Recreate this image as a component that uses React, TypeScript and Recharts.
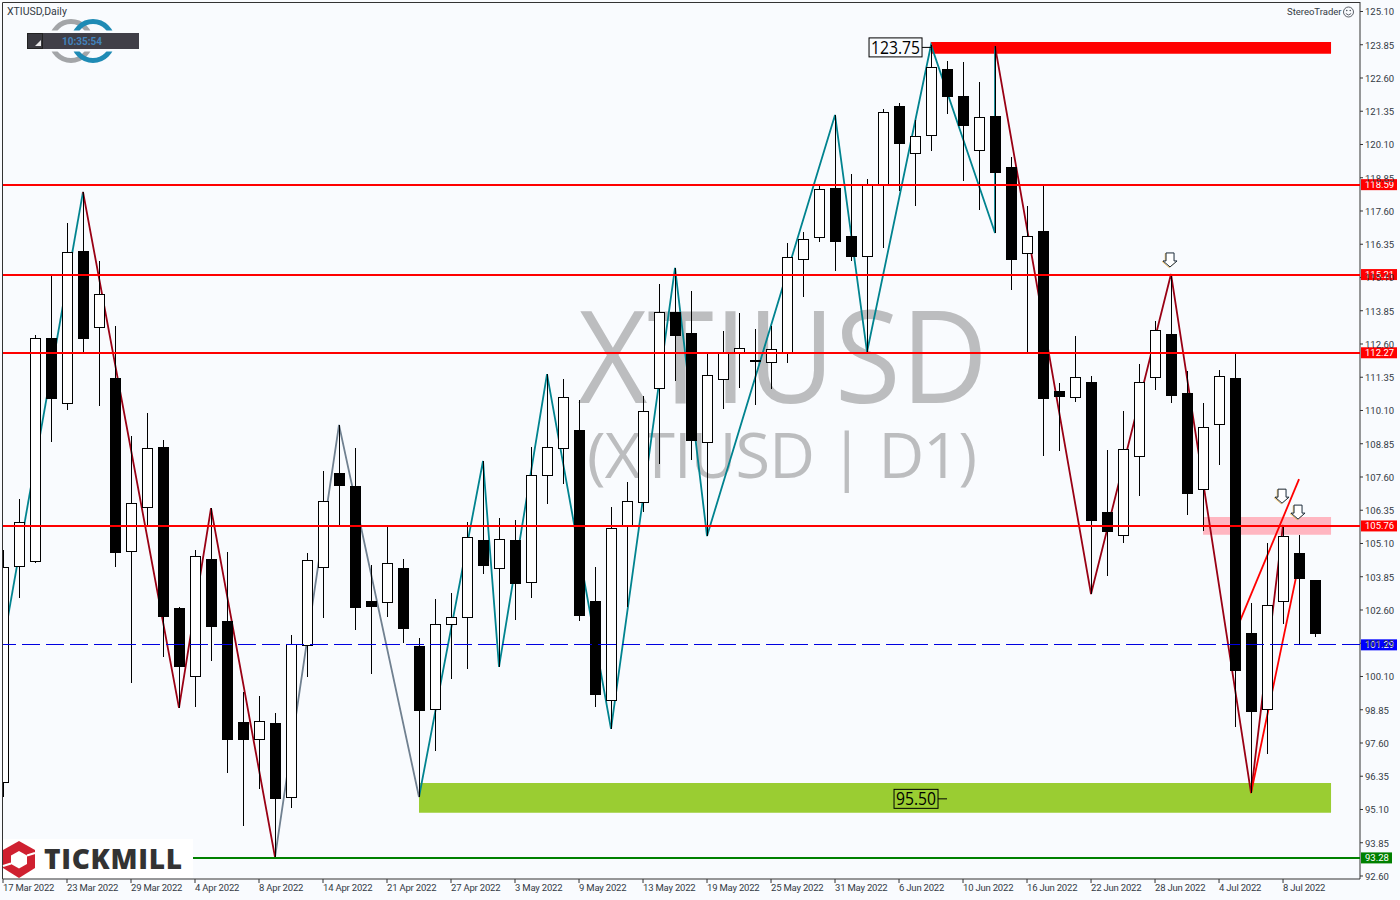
import React from 'react';
import {
  ComposedChart,
  Bar,
  Line,
  XAxis,
  YAxis,
  ReferenceLine,
  ReferenceArea,
  ReferenceDot,
} from 'recharts';

const dateTicks = [
  '17 Mar 2022', '23 Mar 2022', '29 Mar 2022', '4 Apr 2022', '8 Apr 2022', '14 Apr 2022', '21 Apr 2022',
  '27 Apr 2022', '3 May 2022', '9 May 2022', '13 May 2022', '19 May 2022', '25 May 2022', '31 May 2022',
  '6 Jun 2022', '10 Jun 2022', '16 Jun 2022', '22 Jun 2022', '28 Jun 2022', '4 Jul 2022', '8 Jul 2022',
];

const priceTicks = [
  125.1, 123.85, 122.6, 121.35, 120.1, 118.85, 117.6, 116.35, 115.1, 113.85, 112.6, 111.35, 110.1, 108.85,
  107.6, 106.35, 105.1, 103.85, 102.6, 101.35, 100.1, 98.85, 97.6, 96.35, 95.1, 93.85, 92.6,
];

const opens = [
  96.13, 104.25, 104.44, 112.83, 110.38, 116.1, 113.24, 111.32, 104.82, 106.47, 108.73, 102.68, 100.12, 104.52,
  102.19, 98.39, 97.75, 98.35, 95.57, 101.28, 104.22, 107.75, 107.26, 102.94, 102.9, 104.18, 101.25, 98.88,
  102.07, 102.34, 105.23, 104.18, 105.23, 103.65, 107.68, 108.69, 109.37, 102.94, 99.22, 105.8, 106.66, 110.95,
  113.8, 113.01, 108.92, 111.29, 112.26, 112.0, 111.92, 112.26, 115.8, 116.62, 118.47, 116.66, 115.91, 118.62,
  121.55, 119.78, 120.46, 122.94, 121.92, 119.89, 121.17, 119.25, 116.02, 116.85, 110.83, 110.61, 111.17, 106.28,
  105.42, 108.39, 111.36, 112.98, 110.76, 107.15, 109.59, 111.32, 101.74, 98.88, 102.94, 104.74, 103.73,
];
const closes = [
  104.22, 105.91, 112.83, 110.57, 116.06, 112.83, 114.48, 104.78, 106.62, 108.69, 102.38, 100.49, 104.63, 101.99,
  97.75, 97.75, 98.43, 95.53, 101.32, 104.48, 106.7, 107.3, 102.72, 102.75, 104.37, 101.93, 98.84, 102.07,
  102.34, 105.35, 104.29, 105.27, 103.62, 107.68, 108.73, 110.61, 102.41, 99.44, 105.68, 106.7, 110.08, 113.8,
  112.94, 108.99, 111.43, 112.3, 112.45, 111.98, 112.41, 115.87, 116.55, 118.43, 116.47, 115.91, 118.58, 121.32,
  120.16, 120.42, 123.01, 121.92, 120.83, 121.13, 119.07, 115.8, 116.66, 110.57, 110.65, 111.36, 105.98, 105.57,
  108.65, 111.17, 113.13, 110.68, 107.0, 109.48, 111.4, 100.34, 98.8, 102.79, 105.38, 103.8, 101.74,
];
const highs = [
  104.86, 106.77, 112.94, 115.16, 117.15, 118.32, 115.72, 113.28, 109.14, 110.0, 108.99, 102.72, 104.86, 106.43,
  104.78, 99.52, 99.37, 98.73, 101.66, 104.74, 107.83, 109.56, 108.69, 104.29, 105.72, 104.52, 101.55, 103.01,
  103.24, 105.91, 108.2, 106.06, 105.98, 108.73, 111.47, 111.29, 110.5, 104.22, 106.47, 107.41, 110.65, 114.86,
  115.46, 114.59, 112.26, 113.09, 113.77, 113.16, 113.28, 116.4, 116.81, 118.54, 121.21, 118.99, 118.8, 121.44,
  121.66, 121.02, 123.84, 123.24, 123.2, 122.45, 123.8, 119.63, 117.79, 118.54, 111.13, 112.9, 111.4, 108.62,
  110.08, 111.85, 113.47, 115.23, 111.58, 110.38, 111.62, 112.26, 102.86, 105.12, 105.76, 105.42, 103.73,
];
const lows = [
  95.57, 103.05, 104.37, 108.92, 110.12, 112.3, 110.27, 104.22, 99.86, 105.72, 100.83, 98.92, 98.95, 100.68,
  96.47, 94.48, 95.87, 93.31, 95.16, 100.08, 102.3, 105.76, 101.85, 100.19, 102.34, 101.36, 95.57, 97.3,
  100.01, 100.38, 103.95, 100.46, 102.22, 103.05, 106.59, 107.34, 102.19, 98.95, 98.13, 102.72, 106.28, 108.09,
  111.21, 108.24, 105.38, 110.16, 110.95, 110.31, 110.91, 111.89, 114.37, 116.43, 115.35, 115.72, 112.3, 116.21,
  118.35, 117.79, 119.86, 121.25, 118.73, 117.64, 116.77, 114.63, 112.3, 108.39, 108.58, 110.42, 103.2, 103.88,
  105.12, 106.88, 110.87, 110.38, 106.17, 105.57, 108.05, 98.2, 95.72, 97.19, 102.07, 101.29, 101.59,
];

const candles = opens.map((open, i) => ({
  i,
  open,
  close: closes[i],
  high: highs[i],
  low: lows[i],
  range: [lows[i], highs[i]],
}));

const tealLeg1 = [{ i: 0, p: 101.28 }, { i: 5, p: 118.32 }];
const redLeg1 = [{ i: 5, p: 118.32 }, { i: 11, p: 98.92 }, { i: 13, p: 106.43 }, { i: 17, p: 93.31 }];
const slateLeg = [{ i: 17, p: 93.31 }, { i: 21, p: 109.56 }, { i: 26, p: 95.57 }];
const tealLeg2 = [
  { i: 26, p: 95.57 }, { i: 30, p: 108.2 }, { i: 31, p: 100.46 }, { i: 34, p: 111.47 }, { i: 38, p: 98.13 },
  { i: 42, p: 115.46 }, { i: 44, p: 105.38 }, { i: 52, p: 121.21 }, { i: 54, p: 112.3 }, { i: 58, p: 123.84 },
  { i: 62, p: 116.77 }, { i: 62, p: 123.8 },
];
const redLeg2 = [
  { i: 62, p: 123.8 }, { i: 68, p: 103.2 }, { i: 73, p: 115.23 }, { i: 78, p: 95.72 }, { i: 80, p: 105.8 },
];
const brightLeg1 = [{ i: 77, p: 101.74 }, { i: 81, p: 107.52 }];
const brightLeg2 = [{ i: 78, p: 95.72 }, { i: 81, p: 104.37 }];

const legs = [
  { data: tealLeg1, color: '#00838f' },
  { data: tealLeg2, color: '#00838f' },
  { data: slateLeg, color: '#708090' },
  { data: redLeg1, color: '#990014' },
  { data: redLeg2, color: '#990014' },
  { data: brightLeg1, color: '#ff0000' },
  { data: brightLeg2, color: '#ff0000' },
];

const redLevels = [118.59, 115.21, 112.27, 105.76];
const arrowMarks = [{ i: 73, p: 115.76 }, { i: 80, p: 106.88 }, { i: 81, p: 106.28 }];

const FONT = 'Roboto, sans-serif';
const BG = '#f9fbfe';
const INK = '#333a44';

function Candle(props: any) {
  const { x, y, width, height, payload } = props;
  const cx = Math.round(x + width / 2);
  const k = height / (payload.high - payload.low);
  const openY = y + (payload.high - payload.open) * k;
  const closeY = y + (payload.high - payload.close) * k;
  const top = Math.round(Math.min(openY, closeY));
  const bottom = Math.round(Math.max(openY, closeY));
  const up = payload.close > payload.open;
  return (
    <g shapeRendering="crispEdges">
      <line x1={cx + 0.5} x2={cx + 0.5} y1={y} y2={y + height} stroke="#000" />
      <rect
        x={cx - 5 + 0.5}
        y={top + 0.5}
        width={10}
        height={Math.max(bottom - top, 0.5)}
        fill={up ? '#fff' : '#000'}
        stroke="#000"
      />
    </g>
  );
}

function DateTick({ x, y, payload }: any) {
  return (
    <text x={x} y={y + 6} fontSize={9.5} letterSpacing={-0.2} fontFamily={FONT} fill={INK} textAnchor="start">
      {dateTicks[payload.value / 4]}
    </text>
  );
}

function PriceTick({ x, y, payload }: any) {
  return (
    <text x={x} y={y + 4} fontSize={9.5} fontFamily={FONT} fill={INK} textAnchor="start">
      {payload.value.toFixed(2)}
    </text>
  );
}

function PriceTag({ viewBox, text, color, tagWidth }: any) {
  const left = viewBox.x + viewBox.width + 1;
  const cy = viewBox.y;
  return (
    <g>
      <rect x={left} y={cy - 5.5} width={tagWidth} height={11} fill={color} />
      <text x={left + 4} y={cy + 3.5} fontSize={9.5} fontFamily={FONT} fill="#fff">
        {text}
      </text>
    </g>
  );
}

function PriceBox({ cx, cy, text, boxWidth, textWidth }: any) {
  const right = cx - 9;
  return (
    <g>
      <line x1={right} x2={cx} y1={cy} y2={cy} stroke="#000" />
      <rect x={right - boxWidth} y={cy - 9.5} width={boxWidth} height={19} fill="none" stroke="#000" />
      <text
        x={right - boxWidth + (boxWidth - textWidth) / 2}
        y={cy + 6.5}
        fontSize={18}
        fontFamily="'Open Sans', sans-serif"
        fill="#000"
        textLength={textWidth}
        lengthAdjust="spacingAndGlyphs"
      >
        {text}
      </text>
    </g>
  );
}

function ArrowMark({ cx, cy }: any) {
  const pts = [[-4, -7], [4, -7], [4, 1], [7, 1], [0, 7], [-7, 1], [-4, 1]]
    .map(([dx, dy]) => `${cx - 1 + dx},${cy + dy}`)
    .join(' ');
  return (
    <g>
      <polygon points={pts} fill="none" stroke="#e8b860" strokeWidth={1} transform="translate(-0.8,0.6)" />
      <polygon points={pts} fill="#fff" stroke="#1c2b3a" strokeWidth={1} />
    </g>
  );
}

export default function App() {
  return (
    <div style={{ position: 'fixed', left: 0, top: 0, width: 1400, height: 900, background: BG, overflow: 'hidden' }}>
      {/* watermark sits behind the transparent chart */}
      <svg width={1400} height={900} style={{ position: 'absolute', left: 0, top: 0 }}>
        <text x={578} y={403} fontSize={129} fontFamily="'Open Sans', sans-serif" fill="#bcbdbf" textLength={410} lengthAdjust="spacingAndGlyphs">
          XTIUSD
        </text>
        <text x={587} y={478} fontSize={63} fontFamily="'Open Sans', sans-serif" fill="#bcbdbf" textLength={390} lengthAdjust="spacing">
          (XTIUSD | D1)
        </text>
      </svg>

      <div style={{ position: 'absolute', left: 0, top: 0 }}>
        <ComposedChart width={1400} height={900} data={candles} margin={{ top: 2, right: 0, bottom: 0, left: 3 }}>
          <XAxis
            dataKey="i"
            type="number"
            domain={[0, 84.81]}
            allowDataOverflow
            ticks={dateTicks.map((_, n) => n * 4)}
            interval={0}
            height={21}
            tick={<DateTick />}
            tickSize={4}
            tickMargin={2}
            stroke="#333"
            zIndex={5}
          />
          <YAxis
            yAxisId={0}
            orientation="right"
            domain={[92.487, 125.457]}
            ticks={priceTicks}
            interval={0}
            width={40}
            tick={<PriceTick />}
            tickSize={3}
            tickMargin={2}
            stroke="#333"
            zIndex={5}
          />

          <ReferenceArea x1={58} x2={83} y1={123.51} y2={123.95} fill="#ff0000" fillOpacity={1} stroke="none" zIndex={10} />
          <ReferenceArea x1={26} x2={83} y1={94.98} y2={96.1} fill="#9acd32" fillOpacity={1} stroke="none" zIndex={10} />
          <ReferenceArea x1={75} x2={83} y1={105.43} y2={106.1} fill="#ffb6c1" fillOpacity={1} stroke="none" zIndex={10} />

          {legs.map((leg, n) => (
            <Line
              key={n}
              data={leg.data}
              dataKey="p"
              type="linear"
              stroke={leg.color}
              strokeWidth={1.8}
              dot={false}
              activeDot={false}
              isAnimationActive={false}
              zIndex={20}
            />
          ))}

          <Bar dataKey="range" barSize={10} shape={<Candle />} isAnimationActive={false} zIndex={30} />

          {redLevels.map((level) => (
            <ReferenceLine
              key={level}
              y={level}
              stroke="#ff0000"
              strokeWidth={2}
              shapeRendering="crispEdges"
              zIndex={600}
              label={(p: any) => <PriceTag {...p} text={level.toFixed(2)} color="#ff0000" tagWidth={36} />}
            />
          ))}
          <ReferenceLine
            y={101.29}
            stroke="#0000e0"
            strokeWidth={1}
            strokeDasharray="18 6"
            shapeRendering="crispEdges"
            zIndex={600}
            label={(p: any) => <PriceTag {...p} text="101.29" color="#0000ff" tagWidth={36} />}
          />
          <ReferenceLine
            y={93.28}
            stroke="#008000"
            strokeWidth={2}
            shapeRendering="crispEdges"
            zIndex={600}
            label={(p: any) => <PriceTag {...p} text="93.28" color="#008000" tagWidth={31} />}
          />

          {arrowMarks.map((a) => (
            <ReferenceDot key={a.i} x={a.i} y={a.p} shape={<ArrowMark />} zIndex={700} />
          ))}
          <ReferenceDot x={58} y={123.75} shape={<PriceBox text="123.75" boxWidth={53} textWidth={49} />} zIndex={700} />
          <ReferenceDot x={59} y={95.5} shape={<PriceBox text="95.50" boxWidth={44} textWidth={40} />} zIndex={700} />
        </ComposedChart>
      </div>

      {/* plot frame, header texts and logos */}
      <svg width={1400} height={900} style={{ position: 'absolute', left: 0, top: 0, pointerEvents: 'none' }}>
        <path d="M2.5 879 V2.5 H1360" fill="none" stroke="#333" />
        <text x={7} y={14.5} fontSize={10.5} fontFamily={FONT} fill={INK}>XTIUSD,Daily</text>
        <text x={1287} y={15} fontSize={9.5} fontFamily={FONT} fill={INK}>StereoTrader</text>
        <g fill="none" stroke={INK} strokeWidth={0.8}>
          <circle cx={1348.5} cy={12} r={5} />
          <path d="M1345.8 13.5 Q1348.5 16.5 1351.2 13.5" />
        </g>
        <circle cx={1346.8} cy={10.5} r={0.7} fill={INK} />
        <circle cx={1350.2} cy={10.5} r={0.7} fill={INK} />

        <circle cx={71} cy={41} r={19.5} fill="none" stroke="#a3a5a8" strokeWidth={5} />
        <circle cx={93} cy={41} r={19.5} fill="none" stroke="#1f8bb5" strokeWidth={5} />
        <rect x={45} y={30.5} width={72} height={21} fill={BG} />
        <rect x={27} y={33} width={112} height={16} fill="#403f48" />
        <rect x={27.5} y={33.5} width={15} height={15} fill="#3a3940" stroke="#222" />
        <polygon points="35,46 41,46 41,40" fill="#e8e8e8" />
        <text x={82} y={44.5} fontSize={10} fontWeight={700} fontFamily={FONT} fill="#4283bd" textAnchor="middle">
          10:35:54
        </text>

        <rect x={3} y={839} width={190} height={39} fill="#fff" />
        <polygon points="19,841 35,850 35,868 19,878 3,868 3,850" fill="#cf2030" />
        <polygon points="19,851 27,855.5 27,864 19,868.5 11,864 11,855.5" fill="#fff" />
        <path d="M27 855.5 L35 853 M11 863.5 L3 866" stroke="#fff" strokeWidth={2} />
        <text x={44} y={869} fontSize={28} fontWeight={800} fontFamily="'Open Sans', sans-serif" fill="#333" textLength={138} lengthAdjust="spacing">
          TICKMILL
        </text>
      </svg>
    </div>
  );
}
